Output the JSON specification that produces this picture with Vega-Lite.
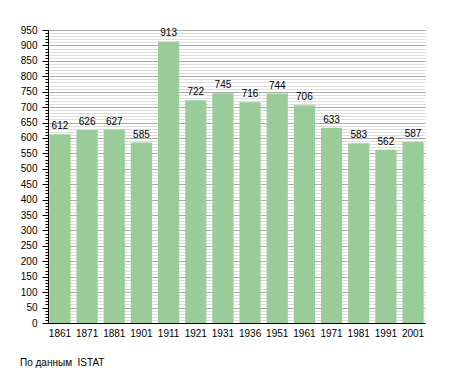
{
  "$schema": "https://vega.github.io/schema/vega-lite/v6.json",
  "width": 377,
  "height": 293,
  "autosize": "none",
  "padding": {"left": 48, "top": 30, "right": 30, "bottom": 50},
  "background": "white",
  "config": {"view": {"stroke": null}, "font": "Liberation Sans"},
  "title": {"text": "По данным\u00a0 ISTAT", "orient": "bottom", "anchor": "start", "frame": "group", "dx": -28, "offset": 20, "fontSize": 10, "fontWeight": "normal", "color": "#000", "font": "Liberation Sans"},
  "data": {"values": [
    {"year": "1861", "pop": 612},
    {"year": "1871", "pop": 626},
    {"year": "1881", "pop": 627},
    {"year": "1901", "pop": 585},
    {"year": "1911", "pop": 913},
    {"year": "1921", "pop": 722},
    {"year": "1931", "pop": 745},
    {"year": "1936", "pop": 716},
    {"year": "1951", "pop": 744},
    {"year": "1961", "pop": 706},
    {"year": "1971", "pop": 633},
    {"year": "1981", "pop": 583},
    {"year": "1991", "pop": 562},
    {"year": "2001", "pop": 587}
  ]},
  "encoding": {
    "x": {"field": "year", "type": "ordinal", "sort": null,
      "scale": {"paddingInner": 0.22, "paddingOuter": 0.05},
      "axis": {"title": null, "labelAngle": 0, "ticks": false, "domainColor": "#000", "labelFontSize": 10, "labelColor": "#000", "labelPadding": 5, "domainWidth": 1}}
  },
  "layer": [
    {
      "mark": {"type": "bar", "color": "#99CC99"},
      "encoding": {
        "y": {"field": "pop", "type": "quantitative", "scale": {"domain": [0, 950], "nice": false, "zero": true},
          "axis": {"orient": "left", "title": null, "values": [0,10,20,30,40,50,60,70,80,90,100,110,120,130,140,150,160,170,180,190,200,210,220,230,240,250,260,270,280,290,300,310,320,330,340,350,360,370,380,390,400,410,420,430,440,450,460,470,480,490,500,510,520,530,540,550,560,570,580,590,600,610,620,630,640,650,660,670,680,690,700,710,720,730,740,750,760,770,780,790,800,810,820,830,840,850,860,870,880,890,900,910,920,930,940,950],
            "labels": false, "tickSize": 3, "tickColor": "#000", "domain": true, "domainColor": "#000", "grid": true, "gridColor": "#dddddd", "gridWidth": 1, "zindex": 0}}
      }
    },
    {
      "mark": {"type": "text", "dy": -8, "fontSize": 10, "color": "#000", "font": "Liberation Sans"},
      "encoding": {
        "y": {"field": "pop", "type": "quantitative",
          "axis": {"orient": "left", "title": null, "values": [0,50,100,150,200,250,300,350,400,450,500,550,600,650,700,750,800,850,900,950],
            "labelFontSize": 10, "labelColor": "#000", "tickSize": 6, "tickColor": "#000", "domain": false, "grid": true, "gridColor": "#aaaaaa", "gridWidth": 1, "labelPadding": 5, "zindex": 0}},
        "text": {"field": "pop", "type": "quantitative"}
      }
    }
  ],
  "resolve": {"axis": {"y": "independent"}}
}
